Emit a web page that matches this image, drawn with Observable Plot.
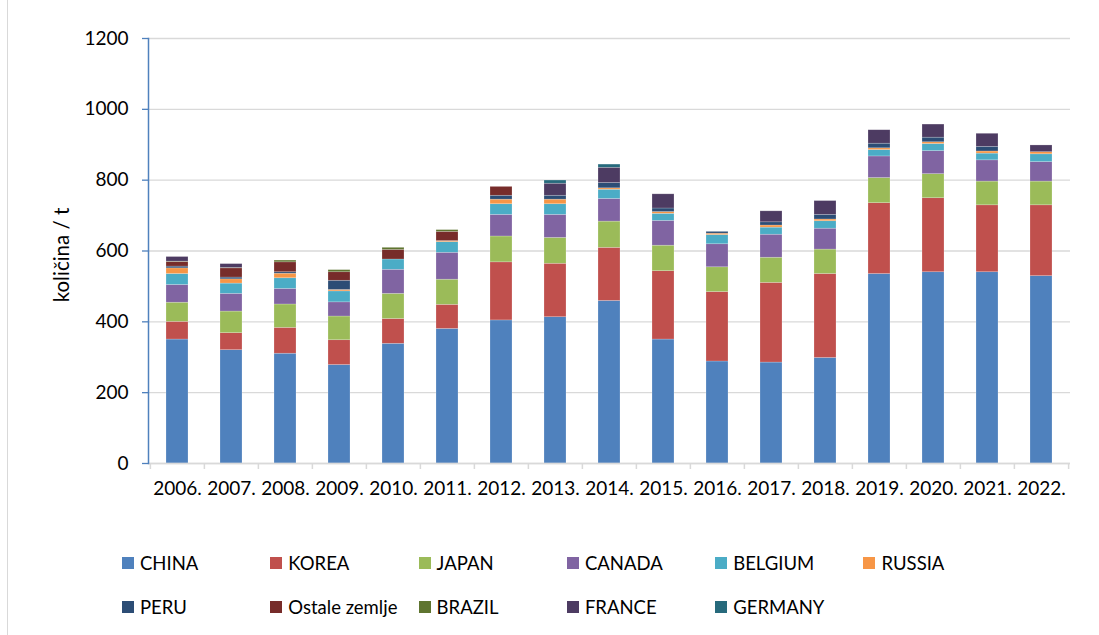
<!DOCTYPE html>
<html>
<head>
<meta charset="utf-8">
<script src="https://cdn.jsdelivr.net/npm/d3@7"></script>
<script src="https://cdn.jsdelivr.net/npm/@observablehq/plot@0.6"></script>
<style>
  html, body { margin: 0; padding: 0; background: #fff; }
  #wrap { position: relative; width: 1099px; height: 635px; overflow: hidden; font-family: Lato, "Open Sans", sans-serif; }
  #leftline { position: absolute; left: 7px; top: 0; width: 1px; height: 635px; background: #d9d9d9; }
  #chart { position: absolute; left: 0; top: 0; }
  #ylabel { position: absolute; left: 61px; top: 255px; transform: translate(-50%, -50%) rotate(-90deg); font-size: 20.5px; color: #000; white-space: nowrap; }
  .legend-row { position: absolute; left: 122px; height: 24px; display: flex; }
  .legend-item { width: 148.3px; display: flex; align-items: center; font-size: 18.5px; color: #000; white-space: nowrap; }
  .sw { width: 12px; height: 12px; margin-right: 6px; flex: none; }
</style>
</head>
<body>
<div id="wrap">
  <div id="leftline"></div>
  <div id="chart"></div>
  <div id="ylabel"></div>
  <div id="legend"></div>
</div>
<script>
const years = ["2006.","2007.","2008.","2009.","2010.","2011.","2012.","2013.","2014.","2015.","2016.","2017.","2018.","2019.","2020.","2021.","2022."];
const countries = ["CHINA","KOREA","JAPAN","CANADA","BELGIUM","RUSSIA","PERU","Ostale zemlje","BRAZIL","FRANCE","GERMANY"];
const colors = ["#4F81BD","#C0504D","#9BBB59","#8064A2","#4BACC6","#F79646","#2C4D75","#772C2A","#5F7530","#4D3B62","#276A7C"];
const yLabel = "količina / t";

// values per country, one per year (t)
const CHINA   = [350,320,310,278,338,380,404,413,459,350,288,285,298,535,540,540,529];
const KOREA   = [ 50, 48, 73, 70, 70, 68,164,151,150,193,196,225,237,200,209,189,200];
const JAPAN   = [ 54, 61, 66, 67, 71, 71, 73, 73, 74, 72, 70, 71, 69, 71, 68, 67, 67];
const CANADA  = [ 50, 50, 44, 40, 68, 76, 61, 65, 64, 70, 65, 65, 59, 61, 65, 60, 55];
const BELGIUM = [ 31, 29, 30, 31, 29, 30, 30, 30, 26, 20, 26, 20, 21, 18, 20, 19, 22];
const RUSSIA  = [ 16, 12, 13,  4,  0,  3, 13, 13,  4,  5,  4,  6,  5,  5,  5,  6,  6];
const PERU    = [  5,  5,  4, 26,  0,  0, 11, 11, 15, 10,  5,  9, 13, 13, 13, 13,  0];
const OSTALE  = [ 13, 26, 28, 24, 27, 26, 25,  0,  0,  0,  0,  0,  0,  0,  0,  0,  0];
const BRAZIL  = [  1,  1,  5,  6,  6,  5,  0,  0,  0,  0,  0,  0,  0,  0,  0,  0,  0];
const FRANCE  = [ 13, 11,  0,  0,  0,  0,  0, 34, 43, 40,  0, 31, 39, 38, 37, 37, 19];
const GERMANY = [  0,  0,  0,  0,  0,  0,  0,  9,  9,  0,  0,  0,  0,  0,  0,  0,  0];
const yTicks = [0,200,400,600,800,1000,1200];

const series = [CHINA,KOREA,JAPAN,CANADA,BELGIUM,RUSSIA,PERU,OSTALE,BRAZIL,FRANCE,GERMANY];
const rows = [];
years.forEach((yr, i) => {
  countries.forEach((c, j) => {
    const v = series[j][i];
    if (v > 0) rows.push({year: yr, country: c, value: v});
  });
});

const W = 1099, H = 520, mL = 148, mR = 29, mT = 38, mB = 57;
const step = (W - mL - mR) / years.length;

const chart = Plot.plot({
  width: W, height: H,
  marginLeft: mL, marginRight: mR, marginTop: mT, marginBottom: mB,
  style: {fontFamily: "Lato, 'Open Sans', sans-serif", fontSize: "19px", color: "#000", background: "transparent"},
  x: {domain: years, paddingInner: 0.59, paddingOuter: 0.295, label: null},
  y: {domain: [0, 1200], label: null},
  color: {domain: countries, range: colors},
  marks: [
    Plot.gridY(yTicks, {stroke: "#d9d9d9", strokeOpacity: 1, strokeWidth: 1.3}),
    Plot.barY(rows, {x: "year", y: "value", fill: "country", stroke: "#ffffff", strokeOpacity: 0.35, strokeWidth: 0.6}),
    Plot.ruleY([0], {stroke: "#d9d9d9", strokeWidth: 1.5}),
    Plot.axisX(years.slice(), {tickSize: 6, dx: -step / 2, text: null, stroke: "#d9d9d9", strokeWidth: 1.5}),
    Plot.axisX(years.slice(-1), {tickSize: 6, dx: step / 2, text: null, stroke: "#d9d9d9", strokeWidth: 1.5}),
    Plot.axisX({tickSize: 0, tickPadding: 18, fontSize: 19, fill: "#000"}),
    Plot.axisY(yTicks, {tickSize: 6, tickPadding: 14, stroke: "#4F81BD", strokeWidth: 1.3, fill: "#000", fontSize: 19,
      tickFormat: d => String(d), label: null}),
    Plot.frame({anchor: "left", stroke: "#4F81BD", strokeWidth: 1.5})
  ]
});
document.getElementById("chart").appendChild(chart);
document.getElementById("ylabel").textContent = yLabel;

// legend (two rows)
const legend = document.getElementById("legend");
const perRow = 6;
const rowTops = [551, 595];
for (let r = 0; r < 2; r++) {
  const row = document.createElement("div");
  row.className = "legend-row";
  row.style.top = rowTops[r] + "px";
  countries.slice(r * perRow, (r + 1) * perRow).forEach((c, k) => {
    const idx = r * perRow + k;
    const item = document.createElement("div");
    item.className = "legend-item";
    const sw = document.createElement("span");
    sw.className = "sw";
    sw.style.background = colors[idx];
    const t = document.createElement("span");
    t.textContent = c;
    item.appendChild(sw);
    item.appendChild(t);
    row.appendChild(item);
  });
  legend.appendChild(row);
}
</script>
</body>
</html>
